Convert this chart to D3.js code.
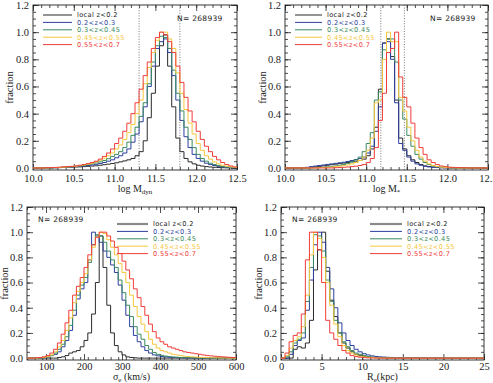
<!DOCTYPE html>
<html>
<head>
<meta charset="utf-8">
<script src="https://cdn.jsdelivr.net/npm/d3@7"></script>
<style>
body { margin: 0; background: #fff; }
svg { display: block; }
text { font-family: "Liberation Serif", "DejaVu Serif", serif; fill: #222; }
</style>
</head>
<body>
<script>
// redshift slices, shared by all four panels
const seriesNames = ['local z<0.2', '0.2<z<0.3', '0.3<z<0.45', '0.45<z<0.55', '0.55<z<0.7']
const seriesColors = ['#2a2a2a', '#2d3f9e', '#3a8a60', '#f5c73f', '#ef3d3a']
const nLabel = 'N= 268939'
const yTicks = [0, 0.2, 0.4, 0.6, 0.8, 1.0, 1.2]

// log M_dyn, bins of 0.05 starting at 10.0
const mdynTicks = [10.0, 10.5, 11.0, 11.5, 12.0, 12.5]
const mdynDotted = [11.3, 11.8]
const mdynLocal = [0,0,0,0,0,0.002,0.003,0.004,0.005,0.006,
  0.007,0.008,0.01,0.012,0.014,0.016,0.02,0.024,0.028,0.033,
  0.038,0.045,0.052,0.06,0.07,0.09,0.12,0.2,0.37,0.55,
  0.75,0.9,0.98,0.75,0.45,0.22,0.12,0.07,0.045,0.03,
  0.02,0.014,0.01,0.007,0.005,0.003,0.002,0.001,0,0]
const mdynZ1 = [0,0,0,0,0,0.002,0.003,0.004,0.006,0.008,
  0.01,0.012,0.015,0.018,0.022,0.027,0.033,0.04,0.05,0.06,
  0.075,0.09,0.11,0.14,0.19,0.25,0.34,0.45,0.6,0.75,
  0.88,0.93,0.95,0.85,0.68,0.5,0.35,0.23,0.15,0.1,
  0.07,0.05,0.035,0.025,0.018,0.012,0.008,0.005,0.003,0.002]
const mdynZ2 = [0,0,0,0,0,0.002,0.003,0.005,0.007,0.009,
  0.012,0.015,0.019,0.024,0.03,0.037,0.045,0.055,0.068,0.085,
  0.1,0.12,0.15,0.19,0.24,0.3,0.38,0.48,0.62,0.78,
  0.9,0.97,0.96,0.88,0.72,0.55,0.42,0.3,0.21,0.15,
  0.1,0.07,0.05,0.035,0.025,0.017,0.011,0.007,0.004,0.002]
const mdynZ3 = [0,0,0,0,0.002,0.003,0.004,0.006,0.008,0.01,
  0.013,0.017,0.022,0.028,0.035,0.045,0.057,0.072,0.09,0.11,
  0.14,0.17,0.21,0.26,0.32,0.4,0.5,0.62,0.74,0.85,
  0.94,1.0,1.0,0.95,0.88,0.7,0.55,0.43,0.33,0.25,
  0.18,0.13,0.09,0.065,0.045,0.03,0.02,0.013,0.008,0.005]
const mdynZ4 = [0,0,0,0.002,0.003,0.004,0.006,0.008,0.01,0.012,
  0.015,0.02,0.025,0.032,0.04,0.05,0.065,0.085,0.11,0.14,
  0.18,0.22,0.27,0.33,0.4,0.48,0.58,0.68,0.78,0.88,
  0.96,1.0,0.98,0.93,0.85,0.75,0.63,0.52,0.42,0.34,
  0.27,0.21,0.16,0.12,0.085,0.06,0.04,0.025,0.015,0.008]

// log M_*, bins of 0.05 starting at 10.0
const mstarTicks = [10.0, 10.5, 11.0, 11.5, 12.0, 12.5]
const mstarDotted = [11.18, 11.47]
const mstarLocal = [0,0,0,0,0,0,0.004,0.008,0.012,0.016,
  0.02,0.024,0.028,0.032,0.036,0.04,0.045,0.05,0.055,0.065,
  0.09,0.14,0.3,0.58,0.92,0.95,0.82,0.5,0.22,0.14,
  0.09,0.06,0.04,0.025,0.015,0.01,0.006,0.004,0.002,0.001,
  0,0,0,0,0,0,0,0,0,0]
const mstarZ1 = [0,0,0,0,0,0.005,0.01,0.014,0.018,0.022,
  0.026,0.03,0.034,0.038,0.042,0.048,0.055,0.062,0.07,0.08,
  0.11,0.16,0.27,0.45,0.92,0.93,0.8,0.48,0.18,0.13,
  0.08,0.05,0.03,0.02,0.012,0.008,0.005,0.003,0.002,0.001,
  0,0,0,0,0,0,0,0,0,0]
const mstarZ2 = [0,0,0,0,0,0,0,0.002,0.004,0.006,
  0.008,0.011,0.015,0.02,0.026,0.034,0.045,0.06,0.08,0.12,
  0.18,0.26,0.5,0.56,0.87,0.95,0.95,0.78,0.5,0.36,
  0.24,0.16,0.1,0.065,0.04,0.025,0.015,0.009,0.005,0.003,
  0.002,0.001,0,0,0,0,0,0,0,0]
const mstarZ3 = [0,0,0,0,0,0,0,0,0.002,0.003,
  0.005,0.007,0.01,0.013,0.017,0.022,0.03,0.04,0.055,0.08,
  0.13,0.22,0.48,0.5,0.8,1.0,0.93,0.93,0.52,0.42,
  0.3,0.2,0.13,0.08,0.05,0.03,0.018,0.01,0.006,0.003,
  0.002,0.001,0,0,0,0,0,0,0,0]
const mstarZ4 = [0,0,0,0,0,0,0,0,0,0,
  0,0,0.002,0.003,0.005,0.007,0.01,0.013,0.018,0.025,
  0.04,0.07,0.15,0.35,0.55,0.85,0.88,1.0,0.67,0.52,
  0.45,0.33,0.22,0.15,0.1,0.06,0.04,0.025,0.015,0.01,
  0.006,0.004,0.003,0.002,0.001,0,0,0,0,0]

// sigma_e in km/s, bins of 10 starting at 50
const sigmaTicks = [100, 200, 300, 400, 500, 600]
const sigmaLocal = [0,0,0,0,0,0,0,0,0.005,0.01,
  0.02,0.04,0.05,0.06,0.09,0.14,0.2,0.35,0.6,0.97,
  0.72,0.42,0.2,0.1,0.05,0.025,0.01,0.005,0.002,0,
  0,0,0,0,0,0,0,0,0,0,
  0,0,0,0,0,0,0,0,0,0,
  0,0,0,0,0]
const sigmaZ1 = [0,0,0,0.002,0.005,0.01,0.02,0.03,0.05,0.09,
  0.14,0.22,0.34,0.47,0.55,0.6,0.78,1.0,0.97,0.92,
  0.85,0.8,0.74,0.68,0.58,0.46,0.34,0.25,0.18,0.13,
  0.09,0.06,0.04,0.025,0.018,0.013,0.01,0.007,0.005,0.004,
  0.003,0.002,0.002,0.001,0.001,0,0,0,0,0,
  0,0,0,0,0]
const sigmaZ2 = [0,0,0,0.002,0.005,0.01,0.02,0.04,0.07,0.11,
  0.17,0.26,0.38,0.5,0.58,0.64,0.76,0.9,0.98,0.97,
  0.92,0.85,0.78,0.72,0.62,0.52,0.42,0.33,0.25,0.19,
  0.15,0.1,0.07,0.045,0.03,0.022,0.016,0.012,0.009,0.007,
  0.005,0.004,0.003,0.002,0.002,0.001,0.001,0,0,0,
  0,0,0,0,0]
const sigmaZ3 = [0,0,0,0.003,0.006,0.012,0.025,0.05,0.09,0.14,
  0.22,0.32,0.44,0.53,0.6,0.67,0.78,0.88,0.96,1.0,
  0.99,0.94,0.88,0.82,0.75,0.68,0.6,0.5,0.41,0.33,
  0.27,0.21,0.15,0.11,0.08,0.06,0.05,0.04,0.03,0.025,
  0.02,0.015,0.012,0.01,0.008,0.006,0.005,0.004,0.003,0.002,
  0.002,0.001,0.001,0,0]
const sigmaZ4 = [0,0,0.002,0.005,0.01,0.02,0.04,0.07,0.12,0.19,
  0.28,0.38,0.5,0.57,0.64,0.72,0.82,0.9,0.96,1.0,
  1.0,0.97,0.93,0.88,0.83,0.77,0.7,0.63,0.55,0.48,
  0.41,0.34,0.27,0.21,0.16,0.13,0.11,0.09,0.08,0.07,
  0.06,0.05,0.045,0.04,0.035,0.03,0.025,0.02,0.018,0.015,
  0.012,0.01,0.008,0.006,0.005]

// R_e in kpc, bins of 0.5 starting at 0
const reTicks = [0, 5, 10, 15, 20, 25]
const reLocal = [0,0,0,0.07,0.09,0.08,0.12,0.3,0.7,0.86,
  1.0,0.69,0.46,0.33,0.2,0.12,0.08,0.05,0.03,0.02,
  0.015,0.01,0.006,0.004,0.003,0.002,0.001,0.001,0,0,
  0,0,0,0,0,0,0,0,0,0,
  0,0,0,0,0,0,0,0,0,0]
const reZ1 = [0,0,0.03,0.1,0.14,0.16,0.38,0.62,0.9,1.0,
  0.92,0.72,0.55,0.4,0.28,0.2,0.14,0.1,0.07,0.05,
  0.035,0.025,0.018,0.013,0.01,0.008,0.006,0.005,0.004,0.003,
  0.003,0.002,0.002,0.002,0.001,0.001,0.001,0.001,0.001,0.001,
  0,0,0,0,0,0,0,0,0,0]
const reZ2 = [0,0.01,0.05,0.12,0.15,0.2,0.45,0.72,0.98,0.97,
  0.85,0.62,0.45,0.3,0.2,0.13,0.09,0.06,0.04,0.03,
  0.02,0.012,0.008,0.005,0.004,0.003,0.002,0.001,0.001,0,
  0,0,0,0,0,0,0,0,0,0,
  0,0,0,0,0,0,0,0,0,0]
const reZ3 = [0,0.02,0.08,0.14,0.17,0.25,0.5,0.82,1.0,0.95,
  0.8,0.6,0.42,0.27,0.17,0.1,0.06,0.04,0.025,0.015,
  0.01,0.006,0.004,0.002,0.001,0,0,0,0,0,
  0,0,0,0,0,0,0,0,0,0,
  0,0,0,0,0,0,0,0,0,0]
const reZ4 = [0,0.04,0.13,0.18,0.2,0.35,0.78,1.0,1.0,0.86,
  0.6,0.3,0.2,0.15,0.1,0.06,0.04,0.02,0.012,0.007,
  0.004,0.002,0.001,0,0,0,0,0,0,0,
  0,0,0,0,0,0,0,0,0,0,
  0,0,0,0,0,0,0,0,0,0]

const panels = [
  { series: [mdynLocal, mdynZ1, mdynZ2, mdynZ3, mdynZ4], start: 10.0, step: 0.05,
    domain: [10, 12.5], ticks: mdynTicks, minor: 0.1, fmt: '.1f', dotted: mdynDotted,
    box: [33, 237, 5, 170], title: ['log M', 'dyn', ''], titleY: 192, yLabelX: 9, pad: 5,
    legend: [43, 72, 15], nPos: [177, 21], thickLocal: false },
  { series: [mstarLocal, mstarZ1, mstarZ2, mstarZ3, mstarZ4], start: 10.0, step: 0.05,
    domain: [10, 12.5], ticks: mstarTicks, minor: 0.1, fmt: '.1f', dotted: mstarDotted,
    box: [285, 488, 5, 170], title: ['log M', '*', ''], titleY: 192, yLabelX: 262, pad: 5,
    legend: [295, 322, 15], nPos: [430, 21], thickLocal: false },
  { series: [sigmaLocal, sigmaZ1, sigmaZ2, sigmaZ3, sigmaZ4], start: 50, step: 10,
    domain: [50, 600], ticks: sigmaTicks, minor: 20, fmt: 'd', dotted: [],
    box: [27, 236, 207, 360], title: ['\u03c3', 'e', ' (km/s)'], titleY: 380, yLabelX: 4, pad: 3,
    legend: [117, 148, 224], nPos: [38, 222], thickLocal: true },
  { series: [reLocal, reZ1, reZ2, reZ3, reZ4], start: 0, step: 0.5,
    domain: [0, 25], ticks: reTicks, minor: 1, fmt: 'd', dotted: [],
    box: [281, 484, 207, 360], title: ['R', 'e', '(kpc)'], titleY: 380, yLabelX: 258, pad: 3,
    legend: [370, 402, 224], nPos: [292, 222], thickLocal: true }
]

const svg = d3.select('body').append('svg')
  .attr('width', 493)
  .attr('height', 383)

panels.forEach((p, pi) => {
  const [left, right, top, bottom] = p.box
  const x = d3.scaleLinear().domain(p.domain).range([left, right])
  const y = d3.scaleLinear().domain([-0.015, 1.2]).range([bottom, top])
  const g = svg.append('g')

  g.append('clipPath').attr('id', 'clip' + pi)
    .append('rect')
    .attr('x', left).attr('y', top)
    .attr('width', right - left).attr('height', bottom - top)

  // axes: ticks pointing inward on all four sides, IDL style
  const xMinor = d3.range(p.domain[0], p.domain[1] + p.minor / 2, p.minor)
  const yMinor = d3.range(0, 1.2001, 0.05)
  const axes = [
    [d3.axisBottom(x).tickValues(p.ticks).tickSize(-6).tickPadding(p.pad).tickFormat(d3.format(p.fmt)), bottom, 0],
    [d3.axisBottom(x).tickValues(xMinor).tickSize(-3).tickFormat(''), bottom, 0],
    [d3.axisTop(x).tickValues(p.ticks).tickSize(-6).tickFormat(''), top, 0],
    [d3.axisTop(x).tickValues(xMinor).tickSize(-3).tickFormat(''), top, 0],
    [d3.axisLeft(y).tickValues(yTicks).tickSize(-6).tickPadding(4).tickFormat(d3.format('.1f')), 0, left],
    [d3.axisLeft(y).tickValues(yMinor).tickSize(-3).tickFormat(''), 0, left],
    [d3.axisRight(y).tickValues(yTicks).tickSize(-6).tickFormat(''), 0, right],
    [d3.axisRight(y).tickValues(yMinor).tickSize(-3).tickFormat(''), 0, right]
  ]
  axes.forEach(([ax, ty, tx]) => {
    const a = g.append('g').attr('transform', `translate(${tx},${ty})`).call(ax)
    a.select('.domain').remove()
    a.selectAll('line').attr('stroke', '#222').attr('stroke-width', 0.8)
    a.selectAll('text').attr('font-size', 10.5).attr('fill', '#222')
      .style('font-family', '"Liberation Serif", serif')
  })

  g.append('rect')
    .attr('x', left).attr('y', top)
    .attr('width', right - left).attr('height', bottom - top)
    .attr('fill', 'none').attr('stroke', '#222').attr('stroke-width', 0.9)

  p.dotted.forEach(v => {
    g.append('line')
      .attr('x1', x(v)).attr('x2', x(v))
      .attr('y1', top).attr('y2', bottom)
      .attr('stroke', '#555').attr('stroke-width', 0.8)
      .attr('stroke-dasharray', '1,1.6')
  })

  const line = d3.line()
    .x(d => x(d[0]))
    .y(d => y(d[1]))
    .curve(d3.curveStepAfter)

  const hist = g.append('g').attr('clip-path', `url(#clip${pi})`)
  p.series.forEach((vals, si) => {
    const pts = vals.map((v, i) => [p.start + i * p.step, v])
    pts.push([p.start + vals.length * p.step, vals[vals.length - 1]])
    hist.append('path')
      .attr('d', line(pts))
      .attr('fill', 'none')
      .attr('stroke', seriesColors[si])
      .attr('stroke-width', 1)
  })

  // legend
  const [lx1, lx2, ly0] = p.legend
  const dy = 7.4
  seriesNames.forEach((name, si) => {
    const yy = ly0 + si * dy
    const local = si === 0 && p.thickLocal
    g.append('line')
      .attr('x1', lx1).attr('x2', lx2)
      .attr('y1', yy).attr('y2', yy)
      .attr('stroke', local ? '#8a8a8a' : seriesColors[si])
      .attr('stroke-width', local ? 2.2 : 1)
    g.append('text')
      .attr('x', lx2 + 5).attr('y', yy + 2.3)
      .attr('font-size', 6.6)
      .attr('letter-spacing', 0.35)
      .style('font-family', '"DejaVu Sans", "Liberation Sans", sans-serif')
      .style('fill', si === 0 ? '#222' : seriesColors[si])
      .text(name)
  })

  g.append('text')
    .attr('x', p.nPos[0]).attr('y', p.nPos[1])
    .attr('font-size', 7.5)
    .attr('letter-spacing', 0.3)
    .style('font-family', '"DejaVu Sans", "Liberation Sans", sans-serif')
    .text(nLabel)

  // axis titles
  const t = g.append('text')
    .attr('x', (left + right) / 2).attr('y', p.titleY)
    .attr('text-anchor', 'middle')
    .attr('font-size', 10)
  t.append('tspan').text(p.title[0])
  t.append('tspan').attr('font-size', 7).attr('dy', 2).text(p.title[1])
  t.append('tspan').attr('dy', -2).text(p.title[2])

  g.append('text')
    .attr('transform', `translate(${p.yLabelX + 4},${(top + bottom) / 2}) rotate(-90)`)
    .attr('text-anchor', 'middle')
    .attr('font-size', 10.5)
    .text('fraction')
})
</script>
</body>
</html>
